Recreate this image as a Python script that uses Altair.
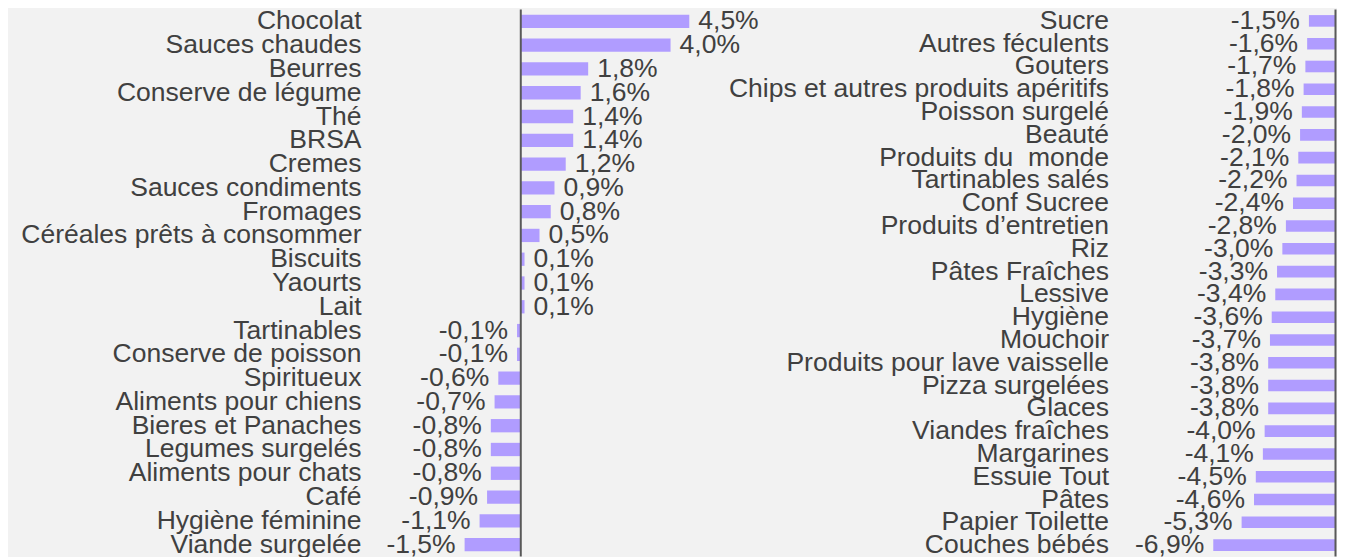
import altair as alt
import pandas as pd

left_cats = [
    "Chocolat", "Sauces chaudes", "Beurres", "Conserve de légume", "Thé", "BRSA",
    "Cremes", "Sauces condiments", "Fromages", "Céréales prêts à consommer",
    "Biscuits", "Yaourts", "Lait", "Tartinables", "Conserve de poisson",
    "Spiritueux", "Aliments pour chiens", "Bieres et Panaches", "Legumes surgelés",
    "Aliments pour chats", "Café", "Hygiène féminine", "Viande surgelée",
]
left_vals = [4.5, 4.0, 1.8, 1.6, 1.4, 1.4, 1.2, 0.9, 0.8, 0.5, 0.1, 0.1, 0.1,
             -0.1, -0.1, -0.6, -0.7, -0.8, -0.8, -0.8, -0.9, -1.1, -1.5]

right_cats = [
    "Sucre", "Autres féculents", "Gouters", "Chips et autres produits apéritifs",
    "Poisson surgelé", "Beauté", "Produits du\u00a0 monde", "Tartinables salés",
    "Conf Sucree", "Produits d’entretien", "Riz", "Pâtes Fraîches", "Lessive",
    "Hygiène", "Mouchoir", "Produits pour lave vaisselle", "Pizza surgelées",
    "Glaces", "Viandes fraîches", "Margarines", "Essuie Tout", "Pâtes",
    "Papier Toilette", "Couches bébés",
]
right_vals = [-1.5, -1.6, -1.7, -1.8, -1.9, -2.0, -2.1, -2.2, -2.4, -2.8, -3.0,
              -3.3, -3.4, -3.6, -3.7, -3.8, -3.8, -3.8, -4.0, -4.1, -4.5, -4.6,
              -5.3, -6.9]


def fmt(v):
    return f"{v:.1f}%".replace(".", ",")


FONT = "Liberation Sans, Arial, sans-serif"
TXT = "#404040"
BAR = "#b09cff"
FS = 26.5


def panel(cats, vals, domain, width, bar_size):
    df = pd.DataFrame({"cat": cats, "val": vals, "lab": [fmt(v) for v in vals]})
    base = alt.Chart(df)
    y = alt.Y("cat:N", sort=cats,
              axis=alt.Axis(title=None, domain=False, ticks=False, tickSize=0,
                            labelFontSize=FS, labelFont=FONT, labelColor=TXT,
                            labelPadding=10, labelLimit=1000))
    xs = alt.Scale(domain=domain, nice=False, zero=False)
    x = alt.X("val:Q", scale=xs, axis=None)
    bars = base.mark_bar(size=bar_size, color=BAR).encode(x=x, y=y)
    layers = [bars]
    if any(v > 0 for v in vals):
        layers.append(base.transform_filter("datum.val > 0").mark_text(
            align="left", baseline="middle", dx=9, font=FONT, fontSize=FS,
            color=TXT).encode(x=x, y=y, text="lab:N"))
    layers.append(base.transform_filter("datum.val < 0").mark_text(
        align="right", baseline="middle", dx=-9, font=FONT, fontSize=FS,
        color=TXT).encode(x=x, y=y, text="lab:N"))
    rule = alt.Chart(pd.DataFrame({"z": [0]})).mark_rule(
        color="#595959", strokeWidth=2).encode(x=alt.X("z:Q", scale=xs, axis=None))
    layers.append(rule)
    return alt.layer(*layers).properties(width=width, height=547)


left = panel(left_cats, left_vals, [-4, 5], 337, 13.3)
right = panel(right_cats, right_vals, [-12.25, 0], 217, 11.6)

chart = alt.hconcat(left, right, spacing=410.5, bounds="flush").properties(
    padding={"left": 12, "top": -1.5, "right": 0, "bottom": 0},
    background="#f2f2f2",
).configure_view(stroke=None)

chart.save("out.html", embed_options={"renderer": "svg", "actions": False})
